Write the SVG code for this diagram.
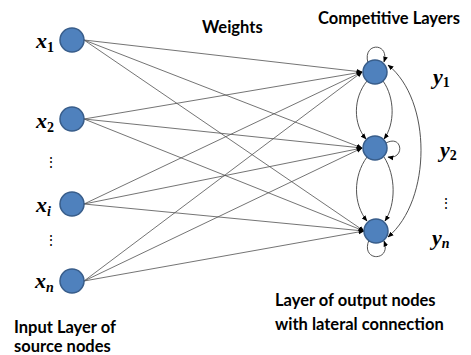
<svg xmlns="http://www.w3.org/2000/svg" width="471" height="355" viewBox="0 0 471 355">
<style>
.node{fill:#4F81BD;stroke:#385D8A;stroke-width:1.5}
.w{stroke:#505050;stroke-width:0.8;fill:none}
.lat{stroke:#404040;stroke-width:0.9;fill:none}
.lbl{font-family:"Lato","Liberation Sans",sans-serif;font-weight:bold;font-size:16.5px;fill:#000}
.math{font-family:"Liberation Serif",serif;font-style:italic;font-weight:bold;font-size:22px;fill:#000}
.sub{font-size:14px}
.num{font-style:normal}
.dots{font-family:"Liberation Serif",serif;font-size:14px;fill:#000}
</style>
<defs>
<marker id="ah" viewBox="0 0 10 10" refX="9" refY="5" markerWidth="6" markerHeight="6" orient="auto" markerUnits="userSpaceOnUse">
<path d="M0,1 L10,5 L0,9 z" fill="#000"/>
</marker>
<marker id="ahs" viewBox="0 0 10 10" refX="1" refY="5" markerWidth="6" markerHeight="6" orient="auto" markerUnits="userSpaceOnUse">
<path d="M10,1 L0,5 L10,9 z" fill="#000"/>
</marker>
</defs>
<g id="connectors">
<g class="w" marker-end="url(#ah)">
<line x1="84" y1="40" x2="362" y2="72"/>
<line x1="84" y1="40" x2="362" y2="148"/>
<line x1="84" y1="40" x2="364" y2="231"/>
<line x1="84" y1="119" x2="362" y2="72"/>
<line x1="84" y1="119" x2="362" y2="148"/>
<line x1="84" y1="119" x2="364" y2="231"/>
<line x1="84" y1="204" x2="362" y2="72"/>
<line x1="84" y1="204" x2="362" y2="148"/>
<line x1="84" y1="204" x2="364" y2="231"/>
<line x1="84" y1="281" x2="362" y2="72"/>
<line x1="84" y1="281" x2="362" y2="148"/>
<line x1="84" y1="281" x2="364" y2="231"/>
</g>
<g class="lat">
<path d="M368,63 C362,42 390,42 384,62" marker-end="url(#ah)"/>
<path d="M367,81 C353,98 353,124 366,139" marker-end="url(#ah)"/>
<path d="M383,81 C395,98 395,124 384,139" marker-end="url(#ah)"/>
<path d="M386,143 C403,134 405,160 388,157" marker-end="url(#ah)"/>
<path d="M367,157 C353,176 353,204 367,221" marker-end="url(#ah)"/>
<path d="M384,157 C396,176 396,204 385,221" marker-end="url(#ah)"/>
<path d="M369,240 C360,262 392,262 384,241" marker-end="url(#ah)"/>
<path d="M388,237 C432,200 432,100 388,65" marker-start="url(#ahs)" marker-end="url(#ah)"/>
</g>
</g>
<g id="x1"><circle class="node" cx="72" cy="40" r="12"/><text class="math" x="36" y="48">x<tspan class="sub num" dy="4">1</tspan></text></g>
<g id="x2"><circle class="node" cx="72" cy="119" r="12"/><text class="math" x="36" y="128">x<tspan class="sub num" dy="4">2</tspan></text></g>
<g id="xi"><circle class="node" cx="72" cy="204" r="12"/><text class="math" x="36" y="212">x<tspan class="sub" dy="4">i</tspan></text></g>
<g id="xn"><circle class="node" cx="72" cy="281" r="12"/><text class="math" x="35" y="288">x<tspan class="sub" dy="4">n</tspan></text></g>
<text class="dots" x="44" y="167">⋮</text>
<text class="dots" x="44" y="245">⋮</text>
<g id="y1"><circle class="node" cx="375" cy="72" r="12"/><text class="math" x="433" y="84">y<tspan class="sub num" dy="3">1</tspan></text></g>
<g id="y2"><circle class="node" cx="375" cy="148" r="12"/><text class="math" x="440" y="157">y<tspan class="sub num" dy="3">2</tspan></text></g>
<g id="yn"><circle class="node" cx="376" cy="231" r="12"/><text class="math" x="432" y="245">y<tspan class="sub" dy="3">n</tspan></text></g>
<text class="dots" x="439" y="208">⋮</text>
<text class="lbl" x="202" y="33">Weights</text>
<text class="lbl" x="318" y="24">Competitive Layers</text>
<text class="lbl" x="14" y="333">Input Layer of</text>
<text class="lbl" x="14" y="352">source nodes</text>
<text class="lbl" x="275" y="306">Layer of output nodes</text>
<text class="lbl" x="275" y="330">with lateral connection</text>
</svg>
